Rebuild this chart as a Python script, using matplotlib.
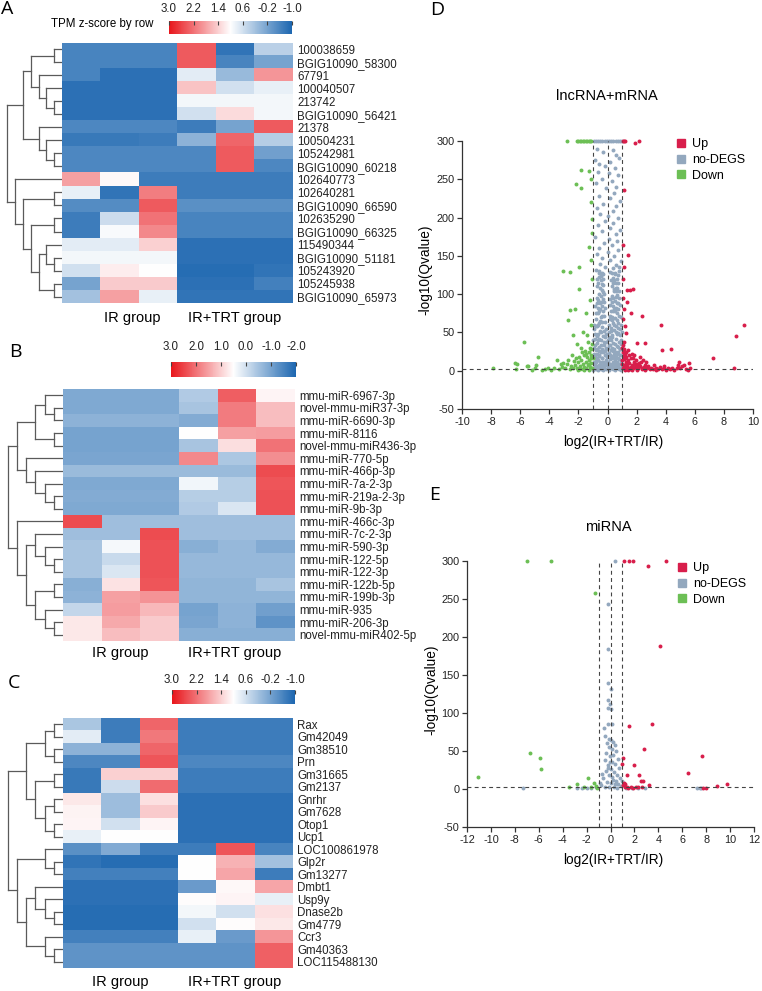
import numpy as np
import matplotlib.pyplot as plt
from matplotlib.colors import LinearSegmentedColormap, Normalize
from matplotlib.cm import ScalarMappable
from matplotlib.lines import Line2D

plt.rcParams['font.family'] = ['Liberation Sans', 'DejaVu Sans']
plt.rcParams['axes.unicode_minus'] = False

# ---------------- heatmap data ----------------
groups = ['IR group', 'IR+TRT group']

a_labels = ['100038659', 'BGIG10090_58300', '67791', '100040507', '213742',
            'BGIG10090_56421', '21378', '100504231', '105242981', 'BGIG10090_60218',
            '102640773', '102640281', 'BGIG10090_66590', '102635290', 'BGIG10090_66325',
            '115490344', 'BGIG10090_51181', '105243920', '105245938', 'BGIG10090_65973']
a_vals = [
    [-0.6, -0.6, -0.6, 2.4, -0.8, 0.4],
    [-0.6, -0.6, -0.6, 2.4, -0.6, -0.2],
    [-0.6, -0.85, -0.85, 0.75, 0.1, 1.9],
    [-0.85, -0.85, -0.85, 1.5, 0.6, 0.8],
    [-0.85, -0.85, -0.85, 0.9, 0.9, 0.9],
    [-0.85, -0.85, -0.85, 0.6, 1.3, 0.9],
    [-0.55, -0.55, -0.55, -0.7, -0.2, 2.4],
    [-0.75, -0.75, -0.7, 0.0, 2.3, 0.35],
    [-0.55, -0.55, -0.55, -0.55, 2.4, -0.25],
    [-0.55, -0.55, -0.55, -0.55, 2.4, -0.55],
    [1.8, 1.05, -0.7, -0.7, -0.7, -0.7],
    [0.8, -0.8, 2.1, -0.7, -0.7, -0.7],
    [-0.5, -0.5, 2.4, -0.45, -0.45, -0.45],
    [-0.7, 0.55, 2.2, -0.6, -0.6, -0.6],
    [-0.7, 0.95, 2.0, -0.6, -0.6, -0.6],
    [0.75, 0.75, 1.4, -0.85, -0.85, -0.85],
    [0.9, 0.9, 0.9, -0.85, -0.85, -0.85],
    [0.6, 1.15, 1.0, -0.9, -0.9, -0.8],
    [-0.2, 1.45, 1.45, -0.85, -0.85, -0.65],
    [0.2, 1.8, 0.8, -0.8, -0.8, -0.8],
]
# merges: (child, child, level); leaves 0..19, new nodes from 20
a_tree = [(0, 1, 1), (4, 5, 1), (3, 21, 2), (2, 22, 3), (20, 23, 4),
          (8, 9, 1), (7, 25, 2), (6, 26, 3), (24, 27, 5),
          (11, 12, 1), (13, 14, 1), (16, 17, 1), (15, 31, 2), (18, 19, 1),
          (32, 33, 3), (30, 34, 4), (29, 35, 5), (10, 36, 6), (28, 37, 7)]
a_ticks = [3.0, 2.2, 1.4, 0.6, -0.2, -1.0]

b_labels = ['mmu-miR-6967-3p', 'novel-mmu-miR37-3p', 'mmu-miR-6690-3p', 'mmu-miR-8116',
            'novel-mmu-miR436-3p', 'mmu-miR-770-5p', 'mmu-miR-466p-3p', 'mmu-miR-7a-2-3p',
            'mmu-miR-219a-2-3p', 'mmu-miR-9b-3p', 'mmu-miR-466c-3p', 'mmu-miR-7c-2-3p',
            'mmu-miR-590-3p', 'mmu-miR-122-5p', 'mmu-miR-122-3p', 'mmu-miR-122b-5p',
            'mmu-miR-199b-3p', 'mmu-miR-935', 'mmu-miR-206-3p', 'novel-mmu-miR402-5p']
b_vals = [
    [-0.9, -0.9, -0.9, -0.35, 2.2, 0.6],
    [-0.9, -0.9, -0.9, -0.45, 1.9, 1.2],
    [-0.75, -0.75, -0.75, -0.85, 1.9, 1.2],
    [-1.0, -1.0, -1.0, 0.5, 1.5, 1.55],
    [-1.0, -1.0, -1.0, -0.45, 0.85, 2.0],
    [-0.95, -0.95, -0.95, 1.75, -0.4, 1.7],
    [-0.6, -0.6, -0.6, -0.6, -0.6, 2.4],
    [-0.9, -0.9, -0.9, 0.35, -0.3, 2.3],
    [-0.85, -0.85, -0.85, -0.3, -0.3, 2.35],
    [-0.9, -0.9, -0.9, -0.35, 0.1, 2.35],
    [2.4, -0.55, -0.55, -0.55, -0.55, -0.55],
    [-0.55, -0.55, 2.4, -0.55, -0.55, -0.55],
    [-0.45, 0.4, 2.35, -0.8, -0.65, -0.85],
    [-0.45, -0.1, 2.35, -0.65, -0.65, -0.65],
    [-0.45, 0.1, 2.35, -0.65, -0.65, -0.65],
    [-0.8, 0.8, 2.3, -0.7, -0.7, -0.45],
    [-0.75, 1.5, 1.65, -0.7, -0.7, -0.7],
    [-0.15, 1.55, 1.25, -1.0, -0.75, -1.05],
    [0.75, 1.4, 1.05, -0.95, -0.75, -1.25],
    [0.75, 1.2, 1.05, -0.8, -0.8, -0.8],
]
b_tree = [(1, 2, 1), (0, 20, 2), (3, 4, 1), (21, 22, 3),
          (8, 9, 1), (7, 24, 2), (6, 25, 3), (5, 26, 4), (23, 27, 5),
          (13, 14, 1), (12, 29, 2), (11, 30, 3), (15, 16, 1), (18, 19, 1),
          (17, 33, 2), (32, 34, 3), (31, 35, 4), (10, 36, 5), (28, 37, 6)]
b_ticks = [3.0, 2.0, 1.0, 0.0, -1.0, -2.0]

c_labels = ['Rax', 'Gm42049', 'Gm38510', 'Prn', 'Gm31665', 'Gm2137', 'Gnrhr', 'Gm7628',
            'Otop1', 'Ucp1', 'LOC100861978', 'Glp2r', 'Gm13277', 'Dmbt1', 'Usp9y',
            'Dnase2b', 'Gm4779', 'Ccr3', 'Gm40363', 'LOC115488130']
c_vals = [
    [0.25, -0.7, 2.3, -0.7, -0.7, -0.7],
    [0.75, -0.7, 2.15, -0.7, -0.7, -0.7],
    [0.0, 0.0, 2.3, -0.7, -0.7, -0.7],
    [-0.55, -0.55, 2.45, -0.55, -0.55, -0.55],
    [-0.75, 1.4, 1.4, -0.7, -0.7, -0.7],
    [-0.75, 0.55, 2.25, -0.7, -0.7, -0.7],
    [1.2, 0.15, 1.25, -0.85, -0.85, -0.85],
    [1.1, 0.15, 1.45, -0.85, -0.85, -0.85],
    [1.08, 0.6, 1.08, -0.85, -0.85, -0.85],
    [0.8, 1.0, 1.0, -0.85, -0.85, -0.85],
    [-0.45, -0.1, -0.7, -0.7, 2.45, -0.6],
    [-0.8, -0.9, -0.9, 1.0, 1.65, 0.2],
    [-0.65, -0.65, -0.65, 1.0, 1.75, -0.7],
    [-0.85, -0.85, -0.85, -0.3, 1.05, 1.75],
    [-0.85, -0.85, -0.85, 1.03, 1.08, 0.8],
    [-0.9, -0.9, -0.9, 0.9, 0.6, 1.25],
    [-0.9, -0.9, -0.9, 0.6, 1.02, 1.2],
    [-0.65, -0.65, -0.65, 0.8, -0.3, 1.9],
    [-0.4, -0.4, -0.4, -0.4, -0.4, 2.35],
    [-0.4, -0.4, -0.4, -0.4, -0.4, 2.35],
]
c_tree = [(0, 1, 1), (2, 3, 1), (20, 21, 2), (4, 5, 1), (6, 7, 1), (8, 9, 1),
          (24, 25, 2), (23, 26, 3), (22, 27, 4),
          (11, 12, 1), (10, 29, 2), (15, 16, 1), (14, 31, 2), (13, 32, 3),
          (18, 19, 1), (17, 34, 2), (33, 35, 4), (30, 36, 5), (28, 37, 6)]
c_ticks = [3.0, 2.2, 1.4, 0.6, -0.2, -1.0]

# ---------------- volcano data (log2FC, -log10 Q) ----------------
d_up = np.array([
    (1.07, 300), (1.15, 300), (1.22, 300), (1.91, 297), (2.19, 300),
    (1.13, 236), (1.39, 151), (1.10, 136), (1.36, 106), (1.57, 105), (1.75, 107),
    (1.32, 90), (1.64, 75), (2.39, 71), (1.23, 59), (3.70, 60), (1.30, 49), (9.38, 60),
    (8.85, 45), (1.16, 38), (2.00, 36), (2.55, 36), (4.34, 29), (3.77, 27), (7.23, 17),
    (8.70, 3.5), (1.08, 120), (1.05, 95), (1.12, 80), (1.04, 68), (1.06, 164),
    (1.05, 25), (1.1, 20), (1.2, 22), (1.15, 15), (1.3, 18), (1.25, 12), (1.4, 14),
    (1.1, 8), (1.35, 6), (1.5, 10), (1.6, 16), (1.45, 4), (1.7, 7), (1.8, 12), (1.9, 5),
    (2.0, 9), (2.1, 3), (2.2, 6), (2.3, 11), (2.4, 2), (2.5, 5), (2.6, 8), (1.05, 3),
    (1.2, 5), (1.15, 28), (1.3, 25), (1.02, 14), (1.55, 2), (1.65, 22), (1.75, 3),
    (1.95, 14), (2.05, 2), (2.15, 10), (2.35, 4), (2.7, 3), (2.8, 6), (2.9, 2), (3.0, 4),
    (3.1, 2), (3.2, 7), (3.3, 3), (3.45, 2), (3.6, 5), (3.75, 2), (3.9, 3), (4.0, 1.5),
    (4.15, 4), (4.3, 2), (4.45, 3), (4.6, 1.5), (4.75, 4), (4.9, 11), (5.0, 3), (5.1, 6),
    (5.25, 7), (5.4, 2), (5.6, 10), (5.7, 4), (5.5, 1), (4.85, 8), (2.45, 14), (2.25, 18),
    (1.85, 20), (1.4, 27), (1.0, 30), (1.08, 34), (1.2, 1), (1.4, 1), (1.7, 1), (2.0, 0.5),
    (2.6, 1), (3.35, 1), (3.85, 6), (2.65, 12), (1.12, 18), (1.28, 9), (1.48, 20),
    (1.62, 5), (1.92, 9), (1.03, 9), (1.22, 16), (1.38, 2), (1.78, 17), (2.12, 6),
])
d_no = np.array([
    (-0.95, 300), (-0.8, 300), (-0.65, 300), (-0.5, 300), (-0.35, 300), (-0.2, 300),
    (-0.05, 300), (0.1, 300), (0.25, 300), (0.4, 300), (0.55, 300), (0.7, 300),
    (0.85, 300), (0.97, 300),
    (-0.7, 290), (-0.3, 285), (0.35, 288), (0.6, 282), (0.8, 278), (-0.85, 275),
    (-0.55, 270), (0.2, 272), (-0.2, 268), (0.5, 265), (-0.65, 260), (0.1, 258),
    (0.75, 255), (-0.4, 250), (0.3, 248), (-0.8, 245), (0.6, 240), (-0.1, 238),
    (0.45, 232), (-0.6, 228), (0.15, 225), (0.85, 222), (-0.3, 218), (0.55, 215),
    (-0.75, 212), (0.35, 208), (-0.5, 205), (0.05, 202), (0.7, 200), (-0.2, 196),
    (0.4, 193), (-0.65, 190), (0.2, 187), (0.85, 184), (-0.4, 182), (0.55, 178),
    (-0.85, 175), (0.1, 172), (0.65, 169), (-0.25, 167), (0.3, 164), (-0.55, 160),
    (0.75, 158), (0.0, 155), (-0.7, 152), (0.45, 150), (-0.35, 147), (0.2, 145),
    (0.9, 143), (-0.5, 140), (0.6, 138), (-0.15, 136), (0.35, 134), (-0.8, 132),
    (0.8, 130), (-0.6, 128), (0.5, 127), (-0.3, 126), (0.15, 129), (0.7, 125),
    (-0.97, 1), (-0.9, 4), (-0.82, 2), (-0.75, 6), (-0.68, 1), (-0.6, 3), (-0.52, 8),
    (-0.45, 2), (-0.38, 5), (-0.3, 1), (-0.22, 4), (-0.15, 7), (-0.08, 2), (0.0, 5),
    (0.07, 1), (0.14, 6), (0.21, 3), (0.28, 8), (0.35, 2), (0.42, 5), (0.5, 1), (0.57, 7),
    (0.64, 3), (0.71, 6), (0.78, 2), (0.85, 4), (0.92, 1), (0.97, 7),
    (-0.95, 12), (-0.87, 18), (-0.8, 11), (-0.72, 22), (-0.65, 14), (-0.58, 19),
    (-0.5, 12), (-0.43, 24), (-0.36, 16), (-0.28, 11), (-0.2, 21), (-0.12, 14),
    (-0.04, 18), (0.05, 12), (0.12, 23), (0.2, 15), (0.27, 19), (0.35, 11), (0.42, 22),
    (0.5, 14), (0.58, 18), (0.65, 12), (0.72, 24), (0.8, 15), (0.88, 20), (0.95, 13),
    (-0.93, 30), (-0.85, 42), (-0.78, 27), (-0.7, 36), (-0.62, 48), (-0.55, 31),
    (-0.47, 40), (-0.4, 28), (-0.32, 45), (-0.25, 34), (-0.17, 26), (-0.1, 38),
    (0.02, 30), (0.1, 44), (0.18, 33), (0.25, 27), (0.33, 47), (0.4, 36), (0.48, 29),
    (0.55, 42), (0.63, 32), (0.7, 49), (0.78, 38), (0.86, 28), (0.93, 35),
    (-0.9, 55), (-0.8, 68), (-0.72, 58), (-0.65, 75), (-0.58, 62), (-0.5, 52),
    (-0.43, 70), (-0.36, 57), (-0.28, 78), (-0.2, 63), (-0.12, 55), (0.08, 60),
    (0.15, 72), (0.22, 56), (0.3, 66), (0.37, 78), (0.45, 53), (0.52, 69), (0.6, 59),
    (0.67, 75), (0.75, 62), (0.83, 54), (0.9, 70),
    (-0.85, 85), (-0.75, 95), (-0.68, 82), (-0.6, 100), (-0.53, 88), (-0.46, 97),
    (-0.38, 84), (-0.3, 103), (-0.22, 90), (0.2, 86), (0.28, 98), (0.35, 84),
    (0.42, 104), (0.5, 91), (0.58, 82), (0.65, 99), (0.72, 88), (0.8, 95),
    (-0.7, 110), (-0.6, 122), (-0.52, 108), (-0.45, 118), (-0.37, 128), (-0.3, 112),
    (0.3, 110), (0.38, 121), (0.45, 107), (0.52, 126), (0.6, 115), (0.68, 108),
    (-0.88, 8), (-0.7, 16), (-0.55, 26), (-0.33, 8), (-0.1, 28), (0.03, 40), (0.16, 9),
    (0.3, 30), (0.46, 9), (0.6, 25), (0.75, 17), (0.9, 40), (-0.62, 40), (-0.4, 64),
    (0.4, 62), (0.62, 48), (-0.75, 45), (0.25, 52), (-0.5, 80), (0.55, 104),
    (-0.92, 22), (-0.83, 33), (-0.76, 14), (-0.69, 28), (-0.61, 7), (-0.56, 20),
    (-0.48, 33), (-0.41, 16), (-0.34, 24), (-0.27, 38), (-0.19, 10), (-0.13, 30),
    (-0.06, 22), (0.04, 9), (0.09, 33), (0.17, 20), (0.23, 40), (0.31, 16), (0.38, 26),
    (0.44, 18), (0.52, 35), (0.59, 10), (0.66, 22), (0.74, 31), (0.82, 9), (0.89, 28),
    (0.96, 21), (-0.88, 48), (-0.79, 58), (-0.71, 46), (-0.64, 60), (-0.57, 42),
    (-0.49, 65), (-0.42, 50), (-0.35, 72), (-0.26, 52), (-0.18, 44), (-0.08, 48),
    (0.12, 50), (0.2, 68), (0.28, 44), (0.34, 70), (0.42, 60), (0.5, 78), (0.57, 50),
    (0.64, 66), (0.71, 56), (0.79, 72), (0.87, 46), (0.94, 60), (-0.82, 76), (-0.73, 88),
    (-0.66, 92), (-0.56, 78), (-0.48, 90), (-0.41, 106), (-0.33, 94), (-0.25, 72),
    (-0.16, 82), (0.18, 94), (0.25, 78), (0.32, 90), (0.4, 95), (0.47, 80), (0.55, 96),
    (0.62, 88), (0.69, 80), (0.77, 104), (0.86, 86), (-0.64, 115), (-0.55, 130),
    (-0.48, 124), (-0.4, 113), (-0.33, 120), (-0.26, 100), (0.26, 118), (0.34, 128),
    (0.41, 115), (0.48, 118), (0.56, 108), (0.64, 120), (0.72, 115), (-0.98, 40),
    (-0.96, 60), (0.99, 50), (0.98, 30), (-0.75, 120), (0.76, 135),
])
d_down = np.array([
    (-2.78, 300), (-2.1, 300), (-2.0, 300), (-1.9, 300), (-1.8, 300), (-1.7, 300),
    (-1.6, 300), (-1.5, 300), (-1.4, 300), (-1.3, 300), (-1.2, 300), (-1.1, 300),
    (-1.84, 262), (-1.27, 261), (-2.16, 244), (-1.84, 238), (-1.13, 250), (-1.09, 198),
    (-1.09, 180), (-1.27, 162), (-3.04, 130), (-2.58, 129), (-1.94, 135), (-1.16, 144),
    (-1.94, 107), (-1.48, 75), (-2.58, 79), (-2.23, 81), (-2.74, 66), (-5.72, 38),
    (-2.35, 47), (-1.66, 51), (-2.07, 35), (-1.43, 47), (-1.1, 220), (-1.05, 120),
    (-1.2, 93), (-1.1, 60), (-6.36, 10), (-5.55, 6.7), (-4.76, 18), (-7.9, 3.6),
    (-3.5, 14), (-3.06, 10), (-2.7, 14), (-6.22, 9), (-6.27, 2.6), (-5.46, 5.6),
    (-1.05, 35), (-1.1, 28), (-1.2, 30), (-1.15, 20), (-1.3, 24), (-1.25, 14), (-1.4, 18),
    (-1.1, 10), (-1.35, 8), (-1.5, 12), (-1.6, 20), (-1.45, 4), (-1.7, 9), (-1.8, 14),
    (-1.9, 6), (-2.0, 11), (-2.1, 3), (-2.2, 7), (-2.3, 13), (-2.4, 3), (-2.5, 6),
    (-1.05, 4), (-1.2, 5), (-1.55, 26), (-1.02, 17), (-1.65, 2), (-1.75, 24),
    (-1.95, 18), (-2.15, 16), (-2.6, 2), (-2.75, 9), (-2.9, 3), (-3.1, 5), (-3.3, 2),
    (-3.7, 3), (-3.9, 1.5), (-4.1, 4), (-4.3, 2), (-4.5, 1.5), (-5.0, 3), (-5.2, 1.5),
    (-4.9, 8), (-3.2, 9), (-1.3, 1), (-1.6, 1), (-2.0, 0.5), (-2.45, 21), (-1.85, 30),
    (-1.35, 38), (-1.12, 16), (-1.28, 9), (-1.5, 22), (-1.62, 5), (-1.92, 2),
])

e_up = np.array([
    (1.15, 300), (1.56, 300), (1.9, 300), (4.63, 300), (3.1, 293), (4.13, 188),
    (1.56, 83), (3.43, 86), (2.82, 53), (7.62, 43), (1.03, 41), (1.0, 33), (2.0, 32),
    (6.5, 21), (1.37, 18), (2.4, 19), (2.55, 11), (2.7, 10), (3.24, 5), (9.77, 7),
    (8.88, 3.5), (7.76, 1.8), (7.98, 1.8), (1.05, 5), (1.2, 3), (1.35, 2), (1.5, 1.5),
    (1.7, 2.5), (1.9, 1.5), (2.1, 2), (2.3, 3), (1.1, 8), (1.25, 6), (2.6, 2),
])
e_no = np.array([
    (0.35, 300), (-0.25, 244), (-0.2, 184), (-0.22, 140), (0.03, 131), (-0.17, 117),
    (-0.05, 112), (-0.18, 107), (0.08, 105), (0.15, 86), (-0.56, 80), (-0.25, 85),
    (-0.45, 70), (-0.1, 66), (0.05, 64), (0.2, 62), (-0.3, 60), (0.35, 58), (-0.15, 55),
    (0.1, 52), (0.45, 50), (-0.35, 48), (0.25, 45), (-0.05, 43), (0.6, 40), (-0.5, 38),
    (0.15, 36), (0.4, 33), (-0.2, 31), (0.7, 28), (0.05, 26), (-0.4, 24), (0.3, 22),
    (0.55, 19), (-0.1, 18), (0.8, 15), (-0.6, 14), (0.2, 12), (0.45, 10), (-0.3, 9),
    (0.0, 8), (0.65, 6), (-0.8, 5), (0.9, 4), (-0.45, 3), (0.3, 3), (-0.15, 2),
    (0.55, 1.5), (-1.2, 2), (-1.6, 1), (-2.0, 1.5), (-2.4, 0.8), (-2.8, 1.2), (1.3, 1),
    (1.8, 0.8), (2.3, 1.2), (2.9, 1), (7.2, 1), (7.5, 1.5), (7.6, 0.8), (-7.3, 1),
    (-0.7, 20), (0.95, 10), (-0.9, 8), (0.1, 16), (-0.25, 27), (0.35, 7), (-0.05, 35),
])
e_down = np.array([
    (-7.0, 300), (-5.0, 300), (-1.31, 258), (-11.1, 16), (-6.7, 47), (-5.9, 41),
    (-5.8, 26), (-1.87, 14), (-2.8, 7), (-3.5, 2.5), (-1.4, 8), (-2.2, 3), (-1.2, 4),
    (-1.6, 2), (-1.1, 1),
])

# ---------------- drawing ----------------
W, H = 762, 991
fig = plt.figure(figsize=(W / 100, H / 100), dpi=100)
cmap = LinearSegmentedColormap.from_list('bwr2', ['#1C66B0', '#FFFFFF', '#E8151B'])
line_c = '#5a5a5a'


def box(x0, y0, x1, y1):
    return fig.add_axes([x0 / W, 1 - y1 / H, (x1 - x0) / W, (y1 - y0) / H])


def ftext(x, y, s, **kw):
    fig.text(x / W, 1 - y / H, s, **kw)


def dendro(ax, tree, n, width_lev):
    pos = {i: float(i) for i in range(n)}
    hgt = {i: 0.0 for i in range(n)}
    node = n
    for a, b, lev in tree:
        for c in (a, b):
            ax.plot([hgt[c], lev], [pos[c], pos[c]], color=line_c, lw=0.9)
        ax.plot([lev, lev], [pos[a], pos[b]], color=line_c, lw=0.9)
        pos[node] = (pos[a] + pos[b]) / 2
        hgt[node] = lev
        node += 1
    ax.set_xlim(width_lev, 0)
    ax.set_ylim(n - 0.5, -0.5)
    ax.axis('off')


def heat_panel(vals, labels, tree, width_lev, vmin, vmax, ticks,
               hm, cb, cb_pad, grp_x, grp_y, letter):
    ax = box(*hm)
    ax.imshow(np.array(vals), cmap=cmap, vmin=vmin, vmax=vmax,
              aspect='auto', interpolation='nearest')
    ax.set_xticks([])
    ax.yaxis.tick_right()
    ax.set_yticks(range(len(labels)))
    ax.set_yticklabels(labels, fontsize=8.3, color='#222222')
    ax.tick_params(axis='y', length=0, pad=3)
    for s in ax.spines.values():
        s.set_visible(False)

    dax = box(3, hm[1], hm[0], hm[3])
    dendro(dax, tree, len(labels), width_lev)

    cax = box(*cb)
    sm = ScalarMappable(norm=Normalize(vmin, vmax), cmap=cmap)
    c = fig.colorbar(sm, cax=cax, orientation='horizontal')
    c.outline.set_visible(False)
    cax.invert_xaxis()
    cax.xaxis.set_ticks_position('top')
    cax.set_xticks(ticks)
    cax.set_xticklabels([f'{t:.1f}' for t in ticks], fontsize=8.3, color='#222222')
    cax.tick_params(axis='x', direction='in', length=3, width=0.8,
                    color='#444444', pad=cb_pad)

    ftext(grp_x[0], grp_y, groups[0], ha='center', va='center', fontsize=10.5)
    ftext(grp_x[1], grp_y, groups[1], ha='center', va='center', fontsize=10.5)
    ftext(letter[1], letter[2], letter[0], ha='left', va='center', fontsize=14,
          family=['Open Sans', 'DejaVu Sans'])


heat_panel(a_vals, a_labels, a_tree, 7.56, -1, 3, a_ticks,
           (62, 43, 293, 303), (169, 21, 292, 34), 4.5, (132, 235), 318, ('A', 1, 9))
ftext(153, 24, 'TPM z-score by row', ha='right', va='center', fontsize=8.3)
heat_panel(b_vals, b_labels, b_tree, 6.5, -2, 3, b_ticks,
           (63, 389, 295, 641), (171, 362, 296, 377), 6.5, (120, 235), 653, ('B', 9, 352))
heat_panel(c_vals, c_labels, c_tree, 6.5, -1, 3, c_ticks,
           (63, 718, 293, 968), (172, 690, 295, 704), 3, (120, 235), 982, ('C', 8, 683))

red_c, grey_c, green_c = '#D81E4B', '#93A8BE', '#6CBF55'


def volcano(rect, xlim, xticks, up, no, down, title, t_xy, xl_xy, yl_xy, letter, leg_anchor):
    ax = box(*rect)
    kw = dict(s=8, linewidths=0, clip_on=False)
    ax.scatter(no[:, 0], no[:, 1], color=grey_c, zorder=2, **kw)
    ax.scatter(up[:, 0], up[:, 1], color=red_c, zorder=2, **kw)
    ax.scatter(down[:, 0], down[:, 1], color=green_c, zorder=2, **kw)
    dash = dict(color='#444444', lw=0.8, ls=(0, (3.5, 3)), zorder=3)
    for xv in (-1, 0, 1):
        ax.plot([xv, xv], [-50, 300], **dash)
    ax.plot(list(xlim), [2, 2], **dash)
    ax.set_xlim(*xlim)
    ax.set_ylim(-50, 300)
    ax.set_xticks(xticks)
    ax.set_yticks(range(-50, 301, 50))
    for s in ('top', 'right'):
        ax.spines[s].set_visible(False)
    for s in ('left', 'bottom'):
        ax.spines[s].set_color('#333333')
        ax.spines[s].set_linewidth(0.9)
    ax.tick_params(labelsize=7.8, length=3.5, width=0.9, color='#333333',
                   labelcolor='#222222', pad=2)
    ax.patch.set_alpha(0)

    handles = [Line2D([], [], ls='', marker='s', ms=5.5, color=c)
               for c in (red_c, grey_c, green_c)]
    ax.legend(handles, ['Up', 'no-DEGS', 'Down'], loc='upper left',
              bbox_to_anchor=leg_anchor, frameon=False, fontsize=9,
              handlelength=0.8, handletextpad=0.5, labelspacing=0.3,
              borderpad=0, borderaxespad=0)

    ftext(*t_xy, title, ha='center', va='center', fontsize=10.5)
    ftext(*xl_xy, 'log2(IR+TRT/IR)', ha='center', va='center', fontsize=9.8)
    ftext(*yl_xy, '-log10(Qvalue)', ha='center', va='center', fontsize=9.8, rotation=90)
    ftext(letter[1], letter[2], letter[0], ha='left', va='center', fontsize=14,
          family=['Open Sans', 'DejaVu Sans'])


volcano((462, 141, 753, 409), (-10, 10), range(-10, 11, 2), d_up, d_no, d_down,
        'lncRNA+mRNA', (607, 96), (613, 442), (425, 270), ('D', 430, 10), (0.735, 1.01))
volcano((467, 561, 754, 827), (-12, 12), range(-12, 13, 2), e_up, e_no, e_down,
        'miRNA', (608, 527), (613, 860), (431, 690), ('E', 429, 495), (0.73, 0.995))

fig.savefig('out.png', dpi=100)
